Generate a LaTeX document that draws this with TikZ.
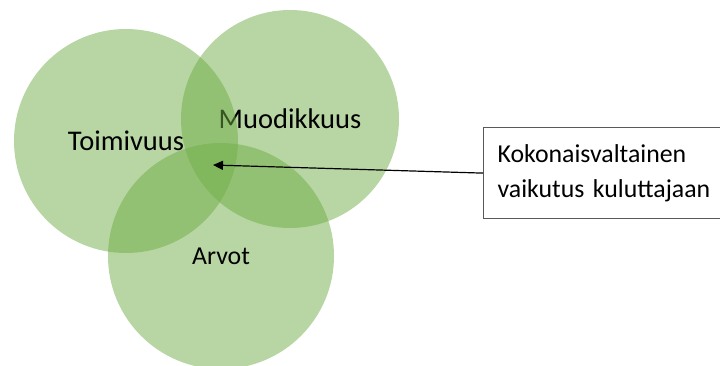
\documentclass[tikz,border=0pt]{standalone}
\usepackage{fontspec}
\setmainfont{Carlito}
\usepackage{xcolor}
\usetikzlibrary{arrows.meta,positioning}
\definecolor{leafgreen}{HTML}{70AD47}
\definecolor{boxgray}{HTML}{595959}

\begin{document}
\begin{tikzpicture}[x=1pt,y=-1pt,
	blob/.style={circle,fill=leafgreen,fill opacity=0.5,text opacity=1,inner sep=0pt,font=\fontsize{28.5}{32}\selectfont},
	infobox/.style={rectangle,draw=boxgray,line width=1.2pt,align=left,anchor=north west,minimum height=91pt,inner xsep=14pt,text width=260pt,font=\fontsize{25.8}{35}\selectfont}]
	 \useasboundingbox (0,0) rectangle (720,365);

	 \node at (290,119) [blob,minimum size=218pt] (mood) {Muodikkuus};
	 \node at (126,141) [blob,minimum size=224pt] (func) {Toimivuus};
	 \node at (221,256) [blob,minimum size=226pt,font=\fontsize{25.8}{30}\selectfont] (values) {Arvot};

	 \node at (483,127) [infobox] (total) {Kokonaisvaltainen\\vaikutus kuluttajaan\par\vspace{10pt}};
	 \coordinate (core) at (213,165);

	 \draw[line width=1.2pt,-{Triangle[length=10pt,width=9pt]}] (total.west) -- (core);

\end{tikzpicture}
\end{document}
